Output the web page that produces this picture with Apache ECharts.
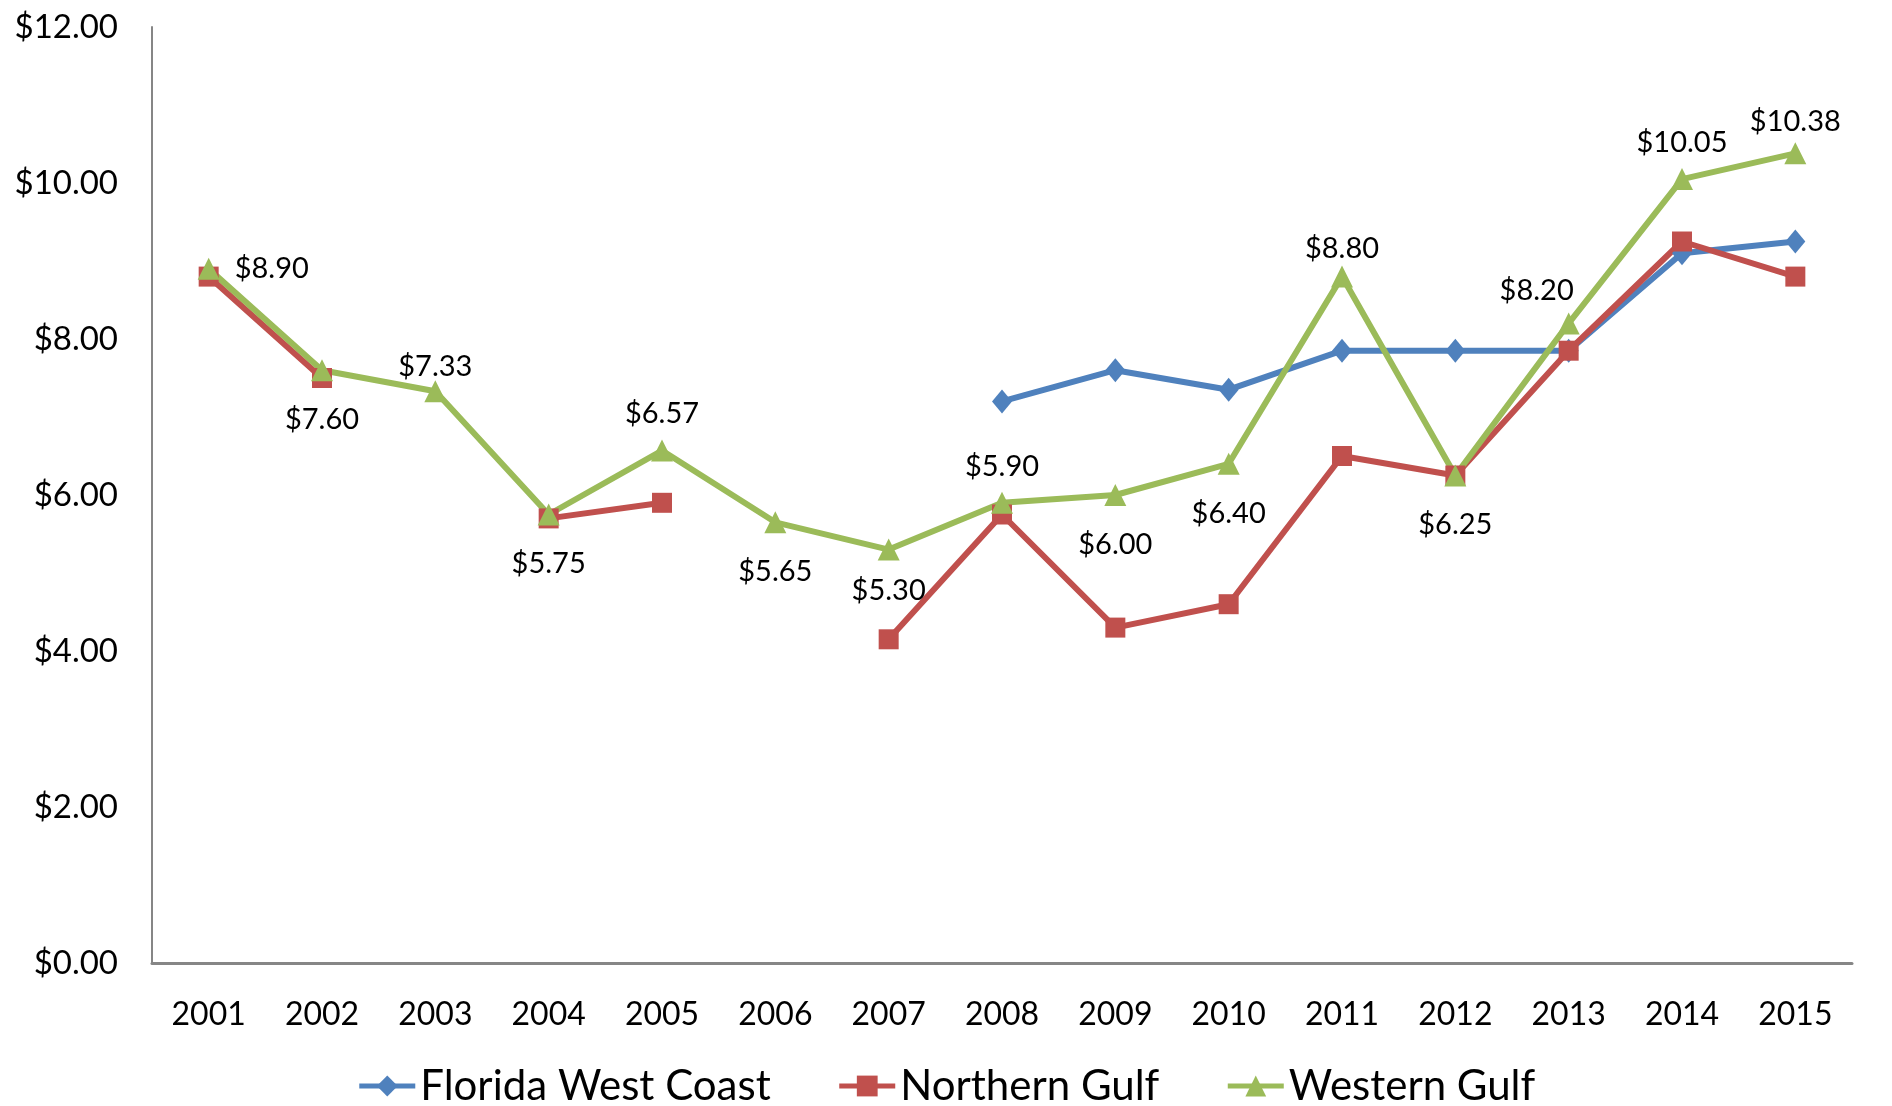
<!DOCTYPE html>
<html lang="en">
<head>
  <meta charset="UTF-8">
  <title>Gulf prices 2001-2015</title>
  <script src="https://cdn.jsdelivr.net/npm/echarts@6/dist/echarts.min.js"></script>
  <style>
    html, body { margin: 0; padding: 0; background: #fff; }
    #main { width: 1892px; height: 1106px; }
  </style>
</head>
<body>
<div id="main"></div>
<script>
  // data
  var years = ['2001', '2002', '2003', '2004', '2005', '2006', '2007', '2008',
               '2009', '2010', '2011', '2012', '2013', '2014', '2015'];
  var floridaWest = [null, null, null, null, null, null, null, 7.20,
                     7.60, 7.35, 7.85, 7.85, 7.85, 9.10, 9.25];
  var northernGulf = [8.80, 7.50, null, 5.70, 5.90, null, 4.15, 5.75,
                      4.30, 4.60, 6.50, 6.25, 7.85, 9.25, 8.80];
  var westernGulf = [8.90, 7.60, 7.33, 5.75, 6.57, 5.65, 5.30, 5.90,
                     6.00, 6.40, 8.80, 6.25, 8.20, 10.05, 10.38];
  // where each Western Gulf label sits, and a small vertical nudge
  var labelPlace = ['right', 'bottom', 'top', 'bottom', 'top', 'bottom', 'bottom', 'top',
                    'bottom', 'bottom', 'top', 'bottom', 'topLeft', 'top', 'top'];
  var labelNudge = [0, 0, 12, 0, 0, 0, -8, 0, 0, 0, 9, 0, 0, 0, 5];

  var FONT = 'Lato';

  function money(v) { return '$' + Number(v).toFixed(2); }

  var westData = westernGulf.map(function (v, i) {
    var p = labelPlace[i];
    var lab = { position: p, distance: 11, offset: [0, labelNudge[i]] };
    if (p == 'bottom') lab.distance = 24;
    if (p == 'right') lab.distance = 15;
    if (p == 'topLeft') { lab.position = 'top'; lab.offset = [-32, 4]; }
    return { value: v, label: lab };
  });

  var myChart = echarts.init(document.getElementById('main'));
  myChart.setOption({
    animation: false,
    textStyle: { fontFamily: FONT },
    grid: { left: 152, right: 40, top: 27, bottom: 143 },
    legend: {
      top: 1060,
      left: 'center',
      itemWidth: 56,
      itemHeight: 26,
      itemGap: 66,
      lineStyle: { width: 5 },
      textStyle: { fontSize: 42, color: '#000', fontFamily: FONT },
      data: ['Florida West Coast', 'Northern Gulf', 'Western Gulf']
    },
    xAxis: {
      type: 'category',
      data: years,
      axisLine: { lineStyle: { color: '#868686', width: 3 } },
      axisTick: { show: false },
      axisLabel: { color: '#000', fontSize: 32, margin: 36 }
    },
    yAxis: {
      type: 'value',
      min: 0, max: 12, interval: 2,
      splitLine: { show: false },
      axisLine: { show: true, lineStyle: { color: '#868686', width: 2 } },
      axisTick: { show: false },
      axisLabel: { color: '#000', fontSize: 33, margin: 34, formatter: money }
    },
    series: [
      {
        name: 'Florida West Coast',
        type: 'line',
        data: floridaWest,
        color: '#4F81BD',
        symbol: 'diamond',
        symbolSize: [20, 24],
        lineStyle: { width: 6 },
        connectNulls: false
      },
      {
        name: 'Northern Gulf',
        type: 'line',
        data: northernGulf,
        color: '#C0504D',
        symbol: 'rect',
        symbolSize: 20,
        lineStyle: { width: 6 },
        connectNulls: false
      },
      {
        name: 'Western Gulf',
        type: 'line',
        data: westData,
        color: '#9BBB59',
        symbol: 'triangle',
        symbolSize: 22,
        lineStyle: { width: 6 },
        label: {
          show: true,
          color: '#000',
          fontSize: 29,
          fontFamily: FONT,
          formatter: function (p) { return money(p.value); }
        }
      }
    ]
  });
</script>
</body>
</html>
